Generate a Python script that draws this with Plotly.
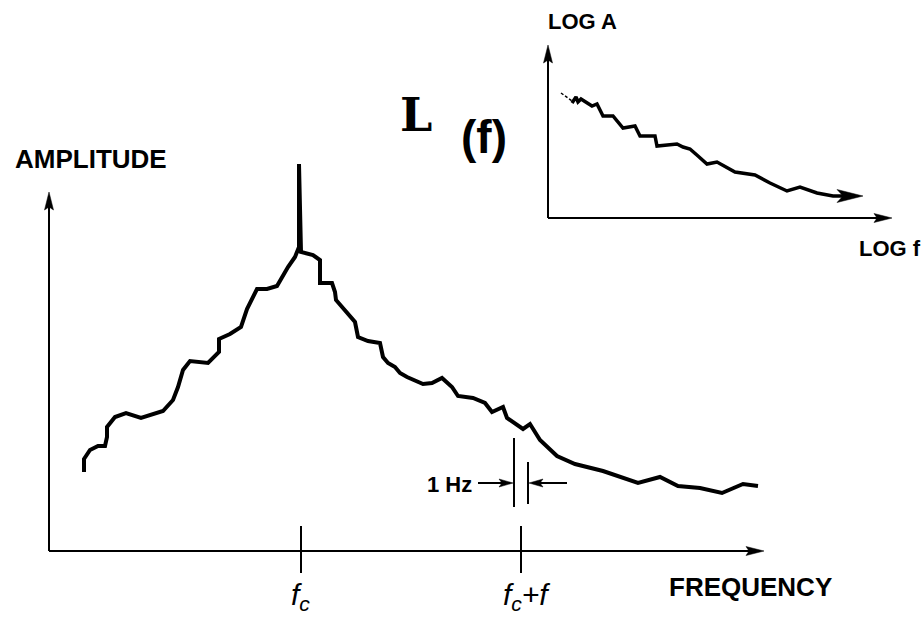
import plotly.graph_objects as go

# ---------------- data ----------------
# main spectrum: frequency offset from the axis origin, amplitude above the axis
freq = [35, 35, 41, 49, 56, 58, 58, 66, 77, 92, 114, 124, 129, 134, 141, 159, 170, 170,
        181, 192, 198, 208, 218, 228, 239, 246, 250, 250, 252, 264, 271, 271, 283, 286,
        287, 306, 309, 319, 331, 334, 339, 346, 351, 358, 374, 383, 393, 403, 409, 424,
        436, 443, 454, 458, 474, 481, 491, 508, 526, 554, 589, 611, 629, 651, 673, 694, 709]
amplitude = [79, 92, 101, 105, 105, 114, 124, 134, 138, 133, 140, 151, 164, 181, 190, 188,
             199, 212, 217, 224, 242, 262, 262, 265, 284, 294, 304, 387, 299, 296, 291, 268,
             268, 259, 251, 229, 214, 210, 208, 194, 188, 184, 178, 174, 167, 168, 173, 164,
             155, 153, 148, 139, 144, 133, 122, 127, 111, 95, 87, 80, 68, 74, 65, 63, 58, 67, 65]

# inset L(f): log f vs log A
log_f_dash = [13, 24]
log_a_dash = [125, 117]
log_f = [24, 28, 30, 33, 44, 49, 55, 65, 75, 87, 92, 107, 109, 129, 135, 142, 150, 159,
         169, 187, 207, 222, 239, 252, 269, 285, 300]
log_a = [115, 121, 116, 119, 112, 114, 102, 102, 90, 92, 82, 82, 72, 74, 71, 69, 62, 54,
         56, 46, 43, 35, 27, 31, 25, 22, 22]
log_arrow_tip = (315, 22)

# axis extents
main_x_end, main_y_end = 715, 359
inset_x_end, inset_y_end = 344, 173

# tick marks and labels on the frequency axis
tick_freqs = [252, 472]
tick_labels = ["<i>f<sub>c</sub></i>", "<i>f<sub>c</sub>+f</i>"]

# 1 Hz resolution markers
hz_lines_x = [465, 479]
hz_lines_y = [(44, 113), (47, 89)]
hz_arrow_y = 68

# ---------------- figure ----------------
W, H = 922, 617
OX, OY = 49, 551          # main axis origin in pixels
IX, IY = 548, 218         # inset axis origin in pixels

fig = go.Figure()
BLACK = "black"


def head(tip, d, L, hw, notch=3):
    tx, ty = tip
    dx, dy = d
    px, py = -dy, dx
    bx, by = tx - L * dx, ty - L * dy
    nx, ny = tx - (L - notch) * dx, ty - (L - notch) * dy
    return (f"M{tx},{ty} L{bx + hw * px},{by + hw * py} L{nx},{ny} "
            f"L{bx - hw * px},{by - hw * py} Z")


def add_head(tip, d, L, hw, xref="x", yref="y", notch=3):
    fig.add_shape(type="path", path=head(tip, d, L, hw, notch), xref=xref, yref=yref,
                  fillcolor=BLACK, line=dict(color=BLACK, width=0.5))


def seg(xs, ys, width, xaxis="x", yaxis="y", dash=None):
    fig.add_trace(go.Scatter(x=xs, y=ys, mode="lines", xaxis=xaxis, yaxis=yaxis,
                             line=dict(color=BLACK, width=width, dash=dash),
                             hoverinfo="skip", showlegend=False, cliponaxis=False))


# main axes
seg([0, main_x_end - 10], [0, 0], 2)
seg([0, 0], [0, main_y_end - 10], 2)
add_head((main_x_end, 0), (1, 0), 18, 4.5)
add_head((0, main_y_end), (0, 1), 18, 4.5)

# ticks
for tf in tick_freqs:
    seg([tf, tf], [25, -22], 2)

# spectrum
seg(freq, amplitude, 4)

# 1 Hz markers
for hx, (y0, y1) in zip(hz_lines_x, hz_lines_y):
    seg([hx, hx], [y0, y1], 2)
seg([429, hz_lines_x[0] - 8], [hz_arrow_y, hz_arrow_y], 2)
add_head((hz_lines_x[0] - 1, hz_arrow_y), (1, 0), 14, 4)
seg([518, hz_lines_x[1] + 8], [hz_arrow_y, hz_arrow_y], 2)
add_head((hz_lines_x[1] + 1, hz_arrow_y), (-1, 0), 14, 4)

# inset axes
seg([0, inset_x_end - 10], [0, 0], 2, "x2", "y2")
seg([0, 0], [0, inset_y_end - 10], 2, "x2", "y2")
add_head((inset_x_end, 0), (1, 0), 18, 4.5, "x2", "y2")
add_head((0, inset_y_end), (0, 1), 18, 4.5, "x2", "y2")

# inset curve
seg(log_f_dash, log_a_dash, 1.5, "x2", "y2", dash="3px,2px")
seg(log_f, log_a, 3.5, "x2", "y2")
add_head(log_arrow_tip, (1, 0), 26, 6.5, "x2", "y2", notch=6)

SANS = "Liberation Sans, Arial, sans-serif"


def text(x, y, s, size, xref="x", yref="y", xanchor="center", yanchor="middle",
         family=SANS):
    fig.add_annotation(x=x, y=y, xref=xref, yref=yref, text=s, showarrow=False,
                       xanchor=xanchor, yanchor=yanchor,
                       font=dict(family=family, size=size, color=BLACK))


text(42, 392, "<b>AMPLITUDE</b>", 26)
text(701, -36, "<b>FREQUENCY</b>", 26)
for tf, lab in zip(tick_freqs, tick_labels):
    text(tf + (-1 if tf == tick_freqs[0] else 5), -25, lab, 30, yanchor="top")
text(400, 67, "<b>1 Hz</b>", 22)
text(367, 436, "<b>L</b>", 46, family="DejaVu Serif, serif")
text(435, 414, "<b>(f)</b>", 46)
text(34, 197, "<b>LOG A</b>", 22, "x2", "y2")
text(309, -30, "<b>LOG f</b>", 22, "x2", "y2", xanchor="left")

ax_common = dict(visible=False, fixedrange=True)
fig.update_layout(
    width=W, height=H, margin=dict(l=0, r=0, t=0, b=0),
    plot_bgcolor="white", paper_bgcolor="white", showlegend=False,
    xaxis=dict(domain=[0, 1], range=[-OX, W - OX], **ax_common),
    yaxis=dict(domain=[0, 1], range=[-(H - OY), OY], **ax_common),
    xaxis2=dict(domain=[0, 1], range=[-IX, W - IX], anchor="y2", overlaying="x", **ax_common),
    yaxis2=dict(domain=[0, 1], range=[-(H - IY), IY], anchor="x2", overlaying="y", **ax_common),
)

fig.write_html("out.html", config={"displayModeBar": False, "staticPlot": True},
               post_script="document.body.style.margin='0px';document.body.style.overflow='hidden';")
